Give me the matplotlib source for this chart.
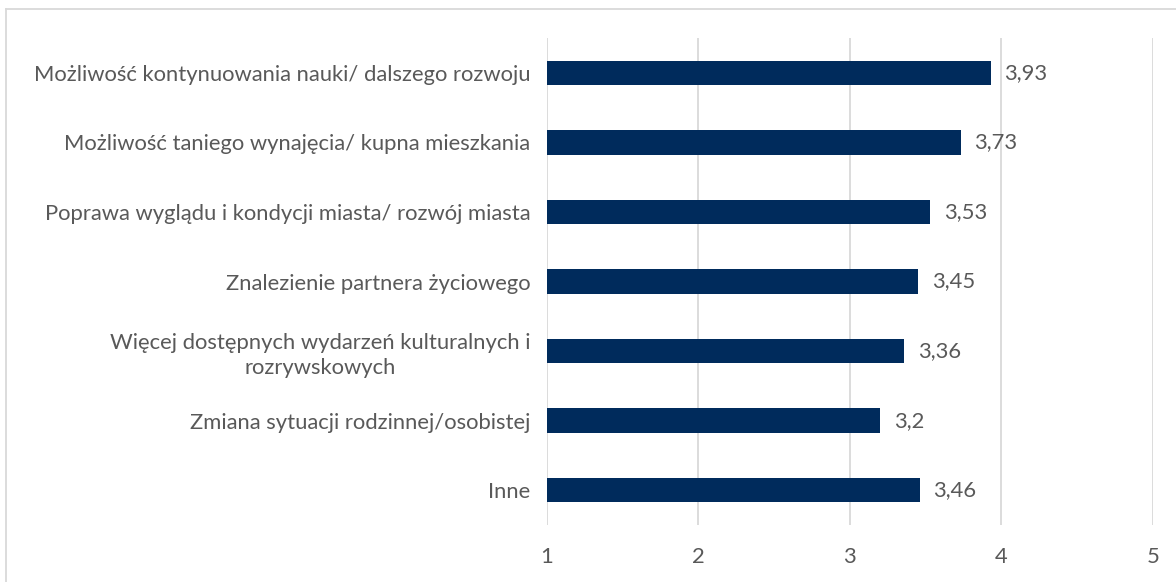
import matplotlib.pyplot as plt
from matplotlib.lines import Line2D

plt.rcParams['font.family'] = ['Lato', 'DejaVu Sans']

categories = [
    'Możliwość kontynuowania nauki/ dalszego rozwoju',
    'Możliwość taniego wynajęcia/ kupna mieszkania',
    'Poprawa wyglądu i kondycji miasta/ rozwój miasta',
    'Znalezienie partnera życiowego',
    'Więcej dostępnych wydarzeń kulturalnych i\nrozrywskowych',
    'Zmiana sytuacji rodzinnej/osobistej',
    'Inne',
]
values = [3.93, 3.73, 3.53, 3.45, 3.36, 3.2, 3.46]
x_ticks = [1, 2, 3, 4, 5]

BAR_COLOR = '#002B5C'
TEXT_COLOR = '#595959'
GRID_COLOR = '#D9D9D9'
FS = 15.8

fig = plt.figure(figsize=(11.76, 5.82), dpi=100)
ax = fig.add_axes([0.4651, 0.0979, 0.5153, 0.8368])

pos = list(range(len(categories)))
base = x_ticks[0]
ax.barh(pos, [v - base for v in values], left=base, height=0.35,
        color=BAR_COLOR, zorder=3)

for y, v in zip(pos, values):
    ax.text(v + 0.09, y, f'{v:g}'.replace('.', ','), va='center', ha='left',
            fontsize=FS, color=TEXT_COLOR)

ax.set_xlim(1, 5)
ax.set_ylim(len(categories) - 0.5, -0.5)
ax.set_xticks(x_ticks)
ax.set_xticklabels([str(t) for t in x_ticks], fontsize=FS, color=TEXT_COLOR)
ax.set_yticks(pos)
ax.set_yticklabels(categories, fontsize=FS, color=TEXT_COLOR,
                   multialignment='center', linespacing=1.3)
ax.tick_params(axis='both', length=0)
ax.tick_params(axis='x', pad=16)
ax.tick_params(axis='y', pad=12)
ax.grid(axis='x', color=GRID_COLOR, linewidth=1.3, zorder=0)
for s in ax.spines.values():
    s.set_visible(False)

# light frame along the top and left edges
fig.add_artist(Line2D([0.0055, 1.0], [0.9837, 0.9837], transform=fig.transFigure,
                      color=GRID_COLOR, linewidth=1.3))
fig.add_artist(Line2D([0.0055, 0.0055], [0.0, 0.9837], transform=fig.transFigure,
                      color=GRID_COLOR, linewidth=1.3))

fig.savefig('out.png', dpi=100, facecolor='white')
